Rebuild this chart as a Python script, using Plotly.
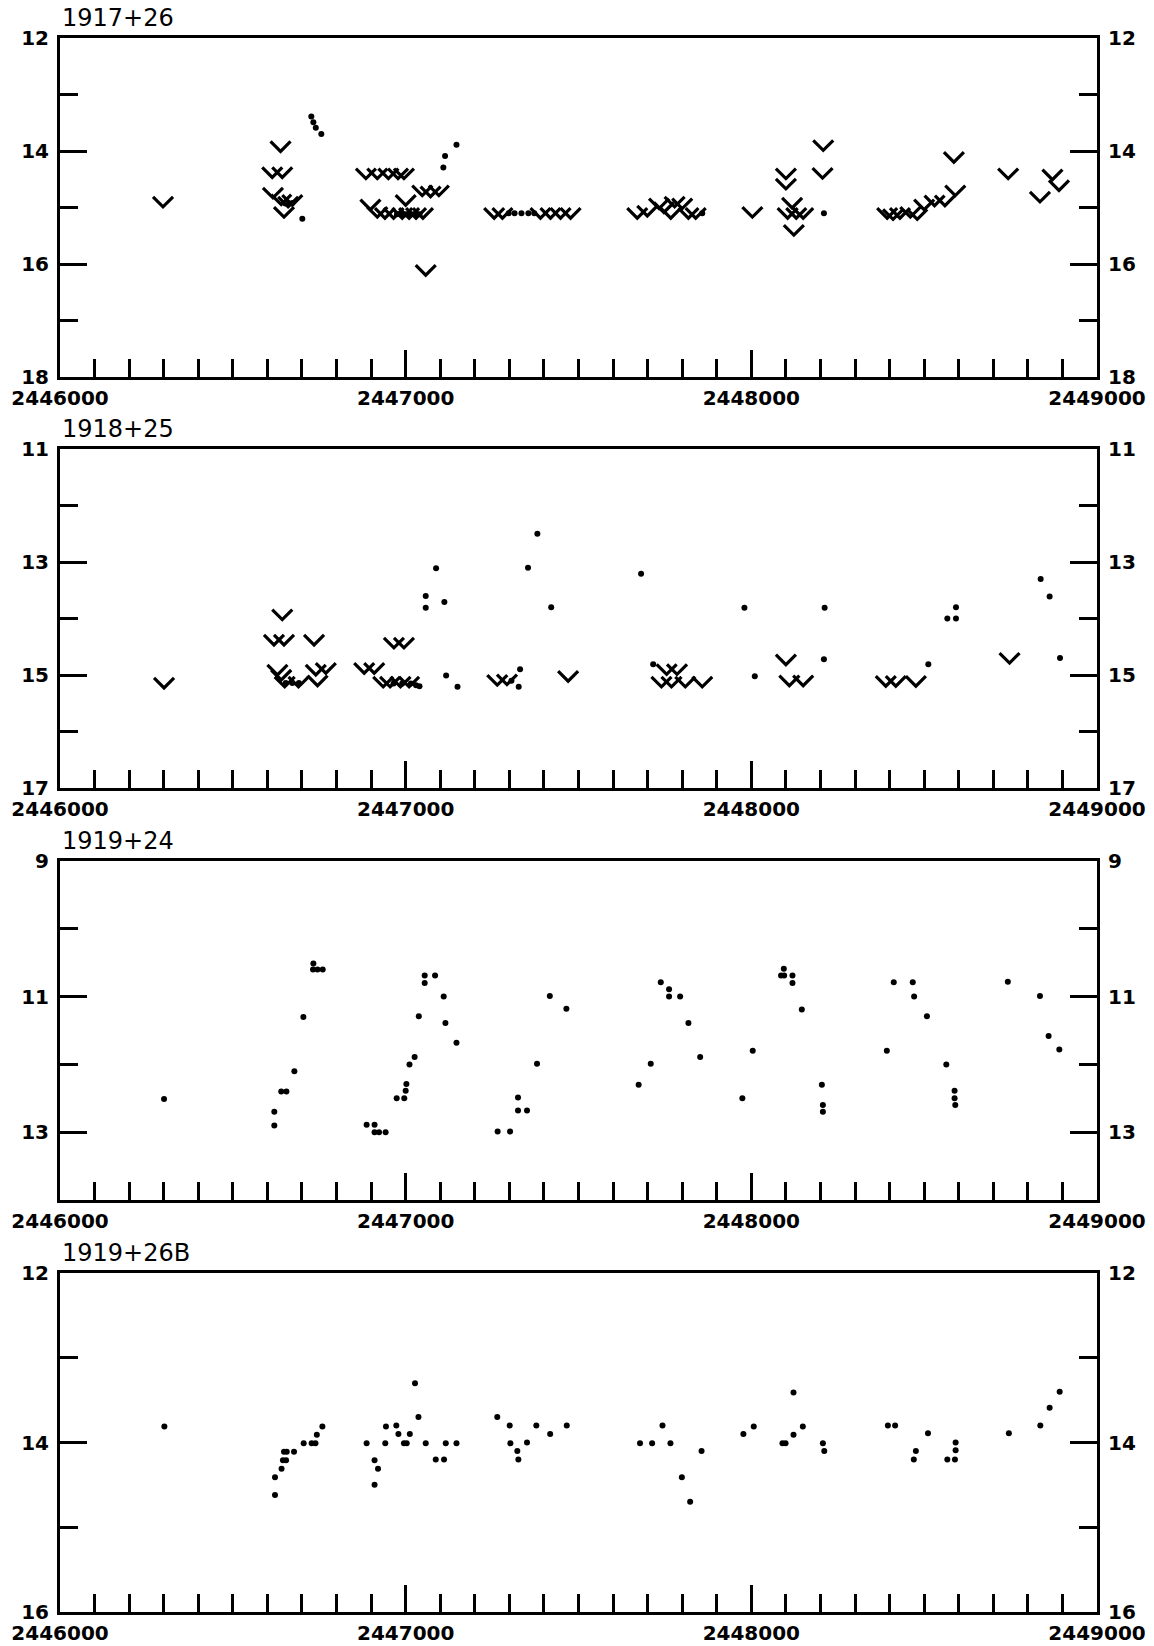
import plotly.graph_objects as go

# ---------------------------------------------------------------
# Light curves of four variables: Julian date vs. magnitude.
# "lim" = upper limits (drawn as V), "det" = detections (dots).
# ---------------------------------------------------------------
star_names = ["1917+26", "1918+25", "1919+24", "1919+26B"]

# 1917+26
p1_lim_jd = [2446298, 2446638, 2446614, 2446643, 2446616, 2446640, 2446660, 2446672, 2446648,
             2446885, 2446918, 2446950, 2446978, 2446995,
             2446898, 2446918, 2446940, 2446965, 2446990, 2447000, 2447010, 2447030, 2447050,
             2447048, 2447072, 2447096, 2447058,
             2447256, 2447280, 2447390, 2447419, 2447448, 2447477,
             2447670, 2447699, 2447733, 2447747, 2447767, 2447778, 2447800, 2447818, 2447839,
             2448003,
             2448100, 2448100, 2448118, 2448105, 2448130, 2448150, 2448123,
             2448208, 2448206,
             2448393, 2448410, 2448430, 2448460, 2448480, 2448500, 2448530, 2448560, 2448590,
             2448586, 2448743, 2448835, 2448871, 2448890]
p1_lim_mag = [14.90, 13.92, 14.38, 14.38, 14.74, 14.86, 14.90, 14.87, 15.08,
              14.40, 14.40, 14.40, 14.40, 14.40,
              14.95, 15.08, 15.10, 15.10, 15.10, 14.87, 15.10, 15.10, 15.10,
              14.70, 14.72, 14.70, 16.11,
              15.10, 15.10, 15.10, 15.10, 15.10, 15.10,
              15.10, 15.06, 14.93, 15.00, 15.10, 14.90, 14.93, 15.10, 15.10,
              15.08,
              14.40, 14.58, 14.92, 15.10, 15.10, 15.10, 15.40,
              13.90, 14.39,
              15.10, 15.12, 15.10, 15.08, 15.12, 14.95, 14.88, 14.88, 14.70,
              14.11, 14.40, 14.81, 14.42, 14.61]
p1_det_jd = [2446652, 2446662, 2446672, 2446701, 2446727, 2446733, 2446740, 2446756,
             2446975, 2446985, 2447000, 2447015, 2447025, 2447040,
             2447109, 2447114, 2447147,
             2447298, 2447315, 2447335, 2447355, 2447372,
             2447858, 2448210]
p1_det_mag = [14.93, 14.93, 14.92, 15.20, 13.39, 13.49, 13.59, 13.70,
              15.12, 15.12, 15.12, 15.12, 15.12, 15.12,
              14.29, 14.09, 13.89,
              15.10, 15.10, 15.10, 15.10, 15.10,
              15.10, 15.10]

# 1918+25
p2_lim_jd = [2446301, 2446643, 2446619, 2446648, 2446735,
             2446629, 2446640, 2446650, 2446690,
             2446740, 2446769, 2446745,
             2446880, 2446909, 2446935, 2446955, 2446985, 2447010,
             2446966, 2446995,
             2447265, 2447293, 2447470,
             2447740, 2447755, 2447769, 2447785, 2447809, 2447858,
             2448100, 2448110, 2448150,
             2448389, 2448418, 2448476,
             2448747]
p2_lim_mag = [15.14, 13.93, 14.38, 14.38, 14.38,
              14.91, 15.00, 15.12, 15.12,
              14.91, 14.88, 15.10,
              14.88, 14.88, 15.12, 15.12, 15.12, 15.12,
              14.43, 14.43,
              15.09, 15.08, 15.02,
              15.12, 14.90, 15.12, 14.90, 15.12, 15.12,
              14.73, 15.10, 15.10,
              15.11, 15.11, 15.11,
              14.70]
p2_det_jd = [2446653, 2446672, 2446691, 2446965, 2446990, 2447015, 2447030, 2447040,
             2447058, 2447058, 2447088, 2447112, 2447117, 2447150,
             2447306, 2447331, 2447327,
             2447354, 2447381, 2447421,
             2447681, 2447716,
             2447980, 2448010,
             2448212, 2448210,
             2448512,
             2448592, 2448567, 2448592,
             2448837, 2448863, 2448893]
p2_det_mag = [15.14, 15.14, 15.14, 15.15, 15.15, 15.15, 15.18, 15.20,
              13.60, 13.81, 13.11, 13.71, 15.01, 15.21,
              15.10, 14.90, 15.21,
              13.10, 12.50, 13.80,
              13.21, 14.81,
              13.81, 15.02,
              13.81, 14.72,
              14.81,
              13.80, 14.00, 14.00,
              13.30, 13.61, 14.70]

# 1919+24 (detections only)
p3_det_jd = [2446301, 2446620, 2446620, 2446640, 2446655, 2446678, 2446704, 2446733,
             2446732, 2446745, 2446760,
             2446887, 2446910, 2446910, 2446923, 2446942,
             2446974, 2446996, 2447000, 2447002, 2447011, 2447026, 2447038,
             2447055, 2447055, 2447085, 2447110, 2447115, 2447147,
             2447266, 2447302, 2447325, 2447325, 2447351, 2447380, 2447417, 2447465,
             2447674, 2447709, 2447738, 2447762, 2447762, 2447794, 2447818, 2447852,
             2447974, 2448004, 2448086, 2448095, 2448094, 2448119, 2448119, 2448146,
             2448204, 2448207, 2448207,
             2448392, 2448412, 2448467, 2448471, 2448508, 2448564,
             2448588, 2448588, 2448590,
             2448742, 2448835, 2448860, 2448891]
p3_det_mag = [12.51, 12.70, 12.90, 12.40, 12.40, 12.10, 11.30, 10.51,
              10.60, 10.60, 10.60,
              12.89, 12.89, 13.00, 13.00, 13.00,
              12.50, 12.50, 12.39, 12.29, 12.00, 11.89, 11.29,
              10.69, 10.80, 10.69, 11.00, 11.39, 11.68,
              12.99, 12.99, 12.49, 12.68, 12.68, 11.99, 10.99, 11.18,
              12.30, 11.99, 10.79, 10.89, 11.00, 11.00, 11.39, 11.89,
              12.50, 11.80, 10.69, 10.69, 10.59, 10.69, 10.80, 11.19,
              12.30, 12.60, 12.70,
              11.80, 10.79, 10.79, 11.00, 11.29, 12.00,
              12.39, 12.50, 12.60,
              10.78, 10.99, 11.58, 11.78]

# 1919+26B (detections only)
p4_det_jd = [2446302, 2446622, 2446622, 2446641, 2446645, 2446654, 2446648, 2446656,
             2446677, 2446705, 2446728, 2446739, 2446743, 2446759,
             2446887, 2446910, 2446920, 2446910, 2446941, 2446943, 2446973, 2446979,
             2446995, 2447003, 2447012, 2447027, 2447037, 2447058, 2447087, 2447111,
             2447116, 2447147,
             2447265, 2447301, 2447303, 2447323, 2447326, 2447351, 2447378, 2447418, 2447466,
             2447678, 2447713, 2447743, 2447766, 2447799, 2447823, 2447856,
             2447977, 2448007, 2448090, 2448099, 2448122, 2448122, 2448149, 2448207, 2448211,
             2448395, 2448416, 2448470, 2448476, 2448511, 2448567, 2448589, 2448591, 2448591,
             2448745, 2448836, 2448863, 2448892]
p4_det_mag = [13.81, 14.62, 14.41, 14.31, 14.21, 14.21, 14.11, 14.11,
              14.11, 14.01, 14.01, 14.01, 13.91, 13.81,
              14.01, 14.21, 14.31, 14.50, 14.01, 13.81, 13.80, 13.90,
              14.01, 14.01, 13.90, 13.30, 13.70, 14.01, 14.20, 14.20,
              14.01, 14.01,
              13.70, 13.80, 14.01, 14.10, 14.20, 14.00, 13.80, 13.90, 13.80,
              14.01, 14.01, 13.80, 14.01, 14.41, 14.70, 14.10,
              13.90, 13.81, 14.01, 14.01, 13.91, 13.41, 13.81, 14.01, 14.10,
              13.80, 13.80, 14.20, 14.10, 13.89, 14.20, 14.20, 14.09, 14.00,
              13.89, 13.80, 13.59, 13.40]

# Magnitude axis range per panel (top value, bottom value)
mag_top = [12, 11, 9, 12]
mag_bottom = [18, 17, 14, 16]
jd_range = [2446000, 2449000]

# ---------------------------------------------------------------
# Page geometry (pixels)
# ---------------------------------------------------------------
W, H = 1154, 1646
X0, X1 = 60, 1097
panel_top_px = [38, 449, 861, 1273]
panel_h_px = 339

V_HALF_W = 10.0  # half width of the upper-limit chevron, px
V_HALF_H = 5.0   # half height of the chevron, px

lims = [(p1_lim_jd, p1_lim_mag), (p2_lim_jd, p2_lim_mag), None, None]
dets = [(p1_det_jd, p1_det_mag), (p2_det_jd, p2_det_mag),
        (p3_det_jd, p3_det_mag), (p4_det_jd, p4_det_mag)]

BOLD = dict(family="DejaVu Sans", size=20, color="black", weight="bold")


def chevrons(jd, mag, px_per_day, px_per_mag):
    """Polyline for a 'V' (upper limit) centred on every (jd, mag)."""
    hw = V_HALF_W / px_per_day
    hh = V_HALF_H / px_per_mag
    xs, ys = [], []
    for j, m in zip(jd, mag):
        xs += [j - hw, j, j + hw, None]
        ys += [m - hh, m + hh, m - hh, None]
    return xs, ys


fig = go.Figure()
layout = dict(width=W, height=H,
              margin=dict(l=0, r=0, t=0, b=0, pad=0, autoexpand=False),
              paper_bgcolor="white", plot_bgcolor="white", showlegend=False,
              annotations=[])

px_per_day = (X1 - X0) / (jd_range[1] - jd_range[0])

for i in range(4):
    n = "" if i == 0 else str(i + 1)
    xa, ya, yr = "x" + n, "y" + n, "y" + str(i + 5)
    top, bot = panel_top_px[i], panel_top_px[i] + panel_h_px
    px_per_mag = panel_h_px / (mag_bottom[i] - mag_top[i])

    if lims[i] is not None:
        vx, vy = chevrons(lims[i][0], lims[i][1], px_per_day, px_per_mag)
        fig.add_trace(go.Scatter(x=vx, y=vy, mode="lines", xaxis=xa, yaxis=ya,
                                 line=dict(color="black", width=3.2),
                                 hoverinfo="skip"))
    fig.add_trace(go.Scatter(x=dets[i][0], y=dets[i][1], mode="markers",
                             xaxis=xa, yaxis=ya, hoverinfo="skip",
                             marker=dict(color="black", size=6)))
    # anchor trace for the right-hand magnitude axis
    fig.add_trace(go.Scatter(x=[jd_range[0]], y=[mag_top[i]], mode="markers",
                             xaxis=xa, yaxis=yr, hoverinfo="skip",
                             marker=dict(opacity=0)))

    ydom = [1 - bot / H, 1 - top / H]
    layout["xaxis" + n] = dict(
        domain=[X0 / W, X1 / W], anchor=ya, range=jd_range, automargin=False,
        tickmode="linear", tick0=jd_range[0], dtick=1000, tickformat="d",
        ticks="inside", ticklen=27, tickwidth=3, tickcolor="black",
        minor=dict(tickmode="linear", tick0=jd_range[0], dtick=100,
                   ticks="inside", ticklen=18, tickwidth=3, tickcolor="black"),
        showline=True, linewidth=3, linecolor="black", mirror=True,
        showgrid=False, zeroline=False, tickfont=BOLD, ticklabelstandoff=1)
    yaxis_common = dict(
        range=[mag_bottom[i], mag_top[i]], automargin=False,
        tickmode="linear", tick0=mag_top[i], dtick=2,
        ticks="inside", ticklen=27, tickwidth=3, tickcolor="black",
        minor=dict(tickmode="linear", tick0=mag_top[i], dtick=1,
                   ticks="inside", ticklen=18, tickwidth=3, tickcolor="black"),
        showline=True, linewidth=3, linecolor="black",
        showgrid=False, zeroline=False, tickfont=BOLD, ticklabelstandoff=4)
    layout["yaxis" + n] = dict(domain=ydom, anchor=xa, side="left", **yaxis_common)
    layout["yaxis" + str(i + 5)] = dict(overlaying=ya, anchor=xa, side="right",
                                        **yaxis_common)

    layout["annotations"].append(dict(
        text=star_names[i], xref="paper", yref="paper",
        x=X0 / W, y=1 - (top - 20) / H, xanchor="left", yanchor="middle",
        showarrow=False, font=dict(family="DejaVu Sans", size=24, color="black")))

fig.update_layout(**layout)
fig.write_html("out.html")
